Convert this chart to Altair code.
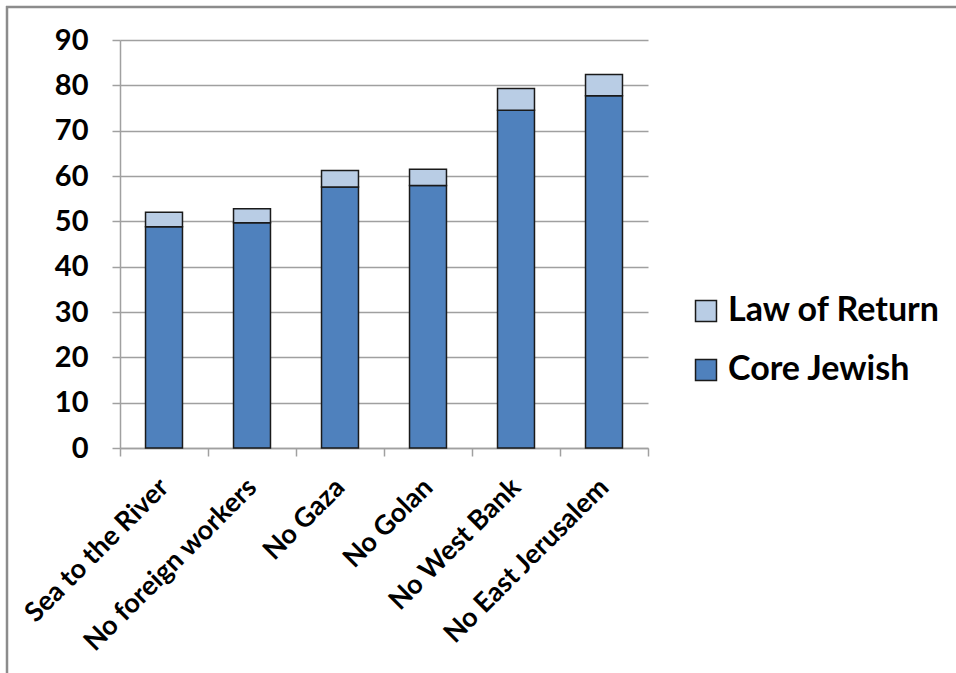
import altair as alt
import pandas as pd

categories = ["Sea to the River", "No foreign workers", "No Gaza", "No Golan",
              "No West Bank", "No East Jerusalem"]
core_jewish = [48.8, 49.7, 57.6, 57.9, 74.5, 77.7]
law_of_return = [3.2, 3.1, 3.6, 3.6, 4.8, 4.7]
series = ["Law of Return", "Core Jewish"]
y_ticks = [0, 10, 20, 30, 40, 50, 60, 70, 80, 90]

rows = []
for c, cj, lr in zip(categories, core_jewish, law_of_return):
    rows.append({"cat": c, "series": "Core Jewish", "value": cj, "ord": 0})
    rows.append({"cat": c, "series": "Law of Return", "value": lr, "ord": 1})
df = pd.DataFrame(rows)

FONT = "Lato"

bars = alt.Chart(df).mark_bar(stroke="#1a1a1a", strokeWidth=1.5,
                              width=alt.RelativeBandSize(0.42)).encode(
    x=alt.X("cat:N", sort=categories, title=None,
            scale=alt.Scale(paddingInner=0, paddingOuter=0),
            axis=alt.Axis(labelAngle=-45, labelAlign="right", labelBaseline="middle",
                          labelFontSize=27, labelFontWeight="bold", labelFont=FONT,
                          labelColor="black", labelPadding=27, labelOffset=0,
                          tickBand="extent",
                          tickSize=8, tickColor="#a0a0a0", tickWidth=1.5,
                          domainColor="#a0a0a0", domainWidth=1.5, labelLimit=400)),
    y=alt.Y("value:Q", stack="zero", title=None,
            scale=alt.Scale(domain=[0, 90], nice=False),
            axis=alt.Axis(values=y_ticks, labelFontSize=29, labelFontWeight="bold",
                          labelFont=FONT, labelColor="black", labelPadding=24,
                          tickSize=8, tickColor="#a0a0a0", tickWidth=1.5,
                          domainColor="#a0a0a0", domainWidth=1.5,
                          gridColor="#a0a0a0", gridWidth=1.5)),
    color=alt.Color("series:N",
                    scale=alt.Scale(domain=series, range=["#b9cde5", "#4f81bd"]),
                    legend=alt.Legend(title=None, orient="none", legendX=569, legendY=254,
                                      labelFontSize=34, labelFontWeight="bold",
                                      labelFont=FONT, labelColor="black",
                                      symbolType="square", symbolSize=440,
                                      symbolStrokeColor="#1a1a1a", symbolStrokeWidth=1.5,
                                      rowPadding=25, labelOffset=5, labelLimit=400)),
    order=alt.Order("ord:Q"),
)

border = alt.Chart(pd.DataFrame({"v": [0]})).mark_rule(color="#8c8c8c", strokeWidth=2.5).encode(
    x=alt.value(-113), x2=alt.value(-113), y=alt.value(-34), y2=alt.value(700))
border_top = alt.Chart(pd.DataFrame({"v": [0]})).mark_rule(color="#8c8c8c", strokeWidth=2.5).encode(
    x=alt.value(-114), x2=alt.value(900), y=alt.value(-33))

chart = alt.layer(bars, border, border_top).properties(
    width=528, height=408,
    autosize=alt.AutoSizeParams(type="none"),
    padding={"left": 120, "top": 40, "right": 308, "bottom": 225},
    background="white",
).configure_view(stroke=None)

chart.save("out.html", embed_options={"renderer": "svg", "actions": False})
